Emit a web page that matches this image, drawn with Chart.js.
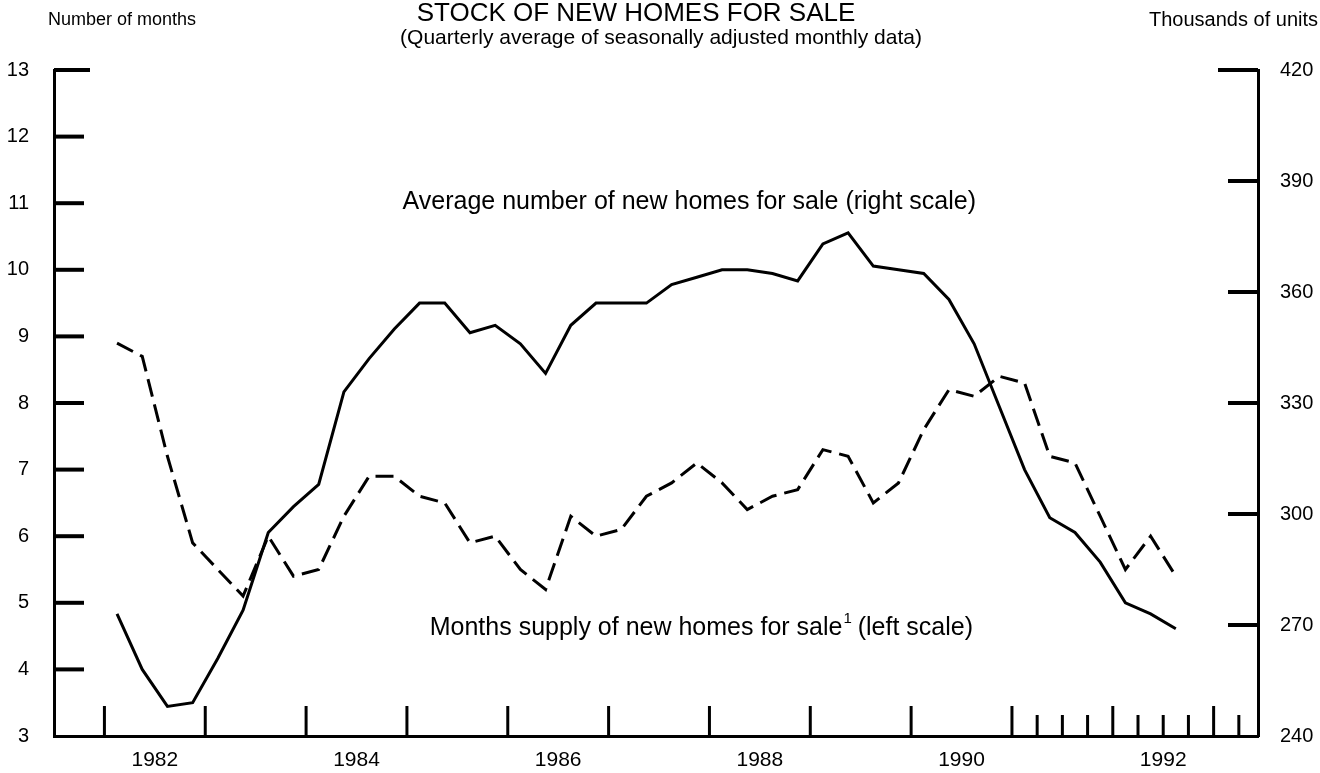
<!DOCTYPE html>
<html>
<head>
<meta charset="utf-8">
<title>Stock of new homes for sale</title>
<script src="https://cdn.jsdelivr.net/npm/chart.js@4.4.1/dist/chart.umd.min.js"></script>
<style>
    html, body { margin: 0; padding: 0; background: #fff; }
    #wrap { width: 1320px; height: 773px; }
</style>
</head>
<body>
<div id="wrap"><canvas id="homesChart" width="1320" height="773"></canvas></div>
<script>
// quarterly data, 1982Q1 - 1992Q3
const quarters = [
    '1982Q1', '1982Q2', '1982Q3', '1982Q4',
    '1983Q1', '1983Q2', '1983Q3', '1983Q4',
    '1984Q1', '1984Q2', '1984Q3', '1984Q4',
    '1985Q1', '1985Q2', '1985Q3', '1985Q4',
    '1986Q1', '1986Q2', '1986Q3', '1986Q4',
    '1987Q1', '1987Q2', '1987Q3', '1987Q4',
    '1988Q1', '1988Q2', '1988Q3', '1988Q4',
    '1989Q1', '1989Q2', '1989Q3', '1989Q4',
    '1990Q1', '1990Q2', '1990Q3', '1990Q4',
    '1991Q1', '1991Q2', '1991Q3', '1991Q4',
    '1992Q1', '1992Q2', '1992Q3'
];

// thousands of units (right scale)
const homesForSale = [
    273, 258, 248, 249,
    261, 274, 295, 302,
    308, 333, 342, 350,
    357, 357, 349, 351,
    346, 338, 351, 357,
    357, 357, 362, 364,
    366, 366, 365, 363,
    373, 376, 367, 366,
    365, 358, 346, 329,
    312, 299, 295, 287,
    276, 273, 269
];

// number of months (left scale)
const monthsSupply = [
    8.9, 8.7, 7.2, 5.9,
    5.5, 5.1, 6.0, 5.4,
    5.5, 6.3, 6.9, 6.9,
    6.6, 6.5, 5.9, 6.0,
    5.5, 5.2, 6.3, 6.0,
    6.1, 6.6, 6.8, 7.1,
    6.8, 6.4, 6.6, 6.7,
    7.3, 7.2, 6.5, 6.8,
    7.6, 8.2, 8.1, 8.4,
    8.3, 7.2, 7.1, 6.3,
    5.5, 6.0, 5.4
];

const yearLabels = [1982, 1984, 1986, 1988, 1990, 1992];
const yearTicks = [1982, 1983, 1984, 1985, 1986, 1987, 1988, 1989, 1990, 1991, 1992, 1993];
const quarterTicks = [1991.25, 1991.5, 1991.75, 1992.25, 1992.5, 1992.75, 1993.25];
const monthTicks = [4, 5, 6, 7, 8, 9, 10, 11, 12, 13];
const unitTicks = [270, 300, 330, 360, 390, 420];

const FONT = "'Liberation Sans', Arial, Helvetica, sans-serif";

function quarterToYear(q) {
    const year = parseInt(q.slice(0, 4));
    const n = parseInt(q.slice(5));
    return year + (n - 1) / 4 + 0.125;
}

function seg(ctx, x1, y1, x2, y2) {
    ctx.beginPath();
    ctx.moveTo(x1, y1);
    ctx.lineTo(x2, y2);
    ctx.stroke();
}

// inward tick marks on the three axes
const frameMarks = {
    id: 'frameMarks',
    afterDraw(chart) {
        const { ctx, chartArea: a, scales } = chart;
        const x = scales.x, yL = scales.yL, yR = scales.yR;
        ctx.save();
        ctx.strokeStyle = '#000';
        ctx.lineWidth = 4;
        monthTicks.forEach(v => {
            const py = yL.getPixelForValue(v);
            seg(ctx, a.left, py, a.left + (v === 13 ? 36 : 30), py);
        });
        unitTicks.forEach(v => {
            const py = yR.getPixelForValue(v);
            seg(ctx, a.right, py, a.right - (v === 420 ? 40 : 30), py);
        });
        ctx.lineWidth = 3;
        yearTicks.forEach(t => {
            const px = x.getPixelForValue(t);
            seg(ctx, px, a.bottom, px, a.bottom - 30);
        });
        quarterTicks.forEach(t => {
            const px = x.getPixelForValue(t);
            seg(ctx, px, a.bottom, px, a.bottom - 21);
        });
        ctx.restore();
    }
};

// titles and line labels
const chartText = {
    id: 'chartText',
    afterDraw(chart) {
        const { ctx, scales } = chart;
        const x = scales.x, yL = scales.yL;
        ctx.save();
        ctx.fillStyle = '#000';
        ctx.textBaseline = 'middle';

        ctx.textAlign = 'center';
        ctx.font = `26px ${FONT}`;
        ctx.fillText('STOCK OF NEW HOMES FOR SALE', 636, 14);
        ctx.font = `21px ${FONT}`;
        ctx.fillText('(Quarterly average of seasonally adjusted monthly data)', 661, 38);

        ctx.textAlign = 'left';
        ctx.font = `18px ${FONT}`;
        ctx.fillText('Number of months', 48, 20);
        ctx.textAlign = 'right';
        ctx.font = `20px ${FONT}`;
        ctx.fillText('Thousands of units', 1318, 20);

        ctx.textAlign = 'center';
        ctx.font = `25px ${FONT}`;
        ctx.fillText('Average number of new homes for sale (right scale)',
            x.getPixelForValue(1987.8), yL.getPixelForValue(11.02));

        // months supply label with superscript footnote mark
        const partA = 'Months supply of new homes for sale';
        const partB = ' (left scale)';
        ctx.font = `25px ${FONT}`;
        const wA = ctx.measureText(partA).width;
        const wB = ctx.measureText(partB).width;
        ctx.font = `15px ${FONT}`;
        const wS = ctx.measureText('1').width;
        const cx = x.getPixelForValue(1987.92);
        const cy = yL.getPixelForValue(4.62);
        const left = cx - (wA + wS + wB) / 2;
        ctx.textAlign = 'left';
        ctx.font = `25px ${FONT}`;
        ctx.fillText(partA, left, cy);
        ctx.font = `15px ${FONT}`;
        ctx.fillText('1', left + wA + 1, cy - 9);
        ctx.font = `25px ${FONT}`;
        ctx.fillText(partB, left + wA + wS, cy);
        ctx.restore();
    }
};

Chart.defaults.font.family = FONT;
Chart.defaults.color = '#000';

new Chart(document.getElementById('homesChart'), {
    type: 'line',
    data: {
        datasets: [{
            label: 'Average number of new homes for sale (right scale)',
            data: quarters.map((q, i) => ({ x: quarterToYear(q), y: homesForSale[i] })),
            yAxisID: 'yR',
            borderColor: '#000',
            borderWidth: 3,
            pointRadius: 0,
            tension: 0,
            fill: false
        }, {
            label: 'Months supply of new homes for sale (left scale)',
            data: quarters.map((q, i) => ({ x: quarterToYear(q), y: monthsSupply[i] })),
            yAxisID: 'yL',
            borderColor: '#000',
            borderWidth: 3,
            borderDash: [18, 8],
            pointRadius: 0,
            tension: 0,
            fill: false
        }]
    },
    options: {
        responsive: false,
        animation: false,
        layout: { padding: { top: 70, left: 0, right: 0, bottom: 0 } },
        plugins: {
            legend: { display: false },
            tooltip: { enabled: false }
        },
        scales: {
            x: {
                type: 'linear',
                min: 1981.5,
                max: 1993.44,
                grid: { display: false },
                border: { color: '#000', width: 3 },
                afterBuildTicks: s => { s.ticks = yearLabels.map(y => ({ value: y + 0.5 })); },
                afterFit: s => { s.height = 37; },
                ticks: {
                    autoSkip: false,
                    maxRotation: 0,
                    padding: 4,
                    font: { size: 21 },
                    callback: v => String(Math.floor(v))
                }
            },
            yL: {
                position: 'left',
                min: 3,
                max: 13,
                grid: { display: false },
                border: { color: '#000', width: 3 },
                afterFit: s => { s.width = 54; },
                ticks: { stepSize: 1, padding: 17, font: { size: 20 } }
            },
            yR: {
                position: 'right',
                min: 240,
                max: 420,
                grid: { display: false },
                border: { color: '#000', width: 3 },
                afterFit: s => { s.width = 62; },
                ticks: { stepSize: 30, padding: 14, font: { size: 20 } }
            }
        }
    },
    plugins: [frameMarks, chartText]
});
</script>
</body>
</html>
